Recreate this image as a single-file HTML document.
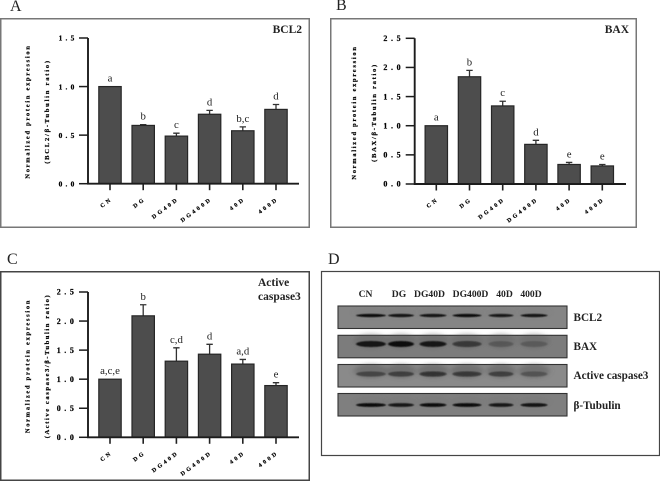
<!DOCTYPE html>
<html><head><meta charset="utf-8"><style>
html,body{margin:0;padding:0;background:#fff}
svg{display:block}
text{font-family:"Liberation Serif","DejaVu Serif",serif;fill:#222}
.tiny{fill:#000;stroke:#000;stroke-width:0.22px}
</style></head><body>
<svg id="fig" width="660" height="482" viewBox="0 0 660 482" xmlns="http://www.w3.org/2000/svg">
<defs>
<filter id="b1" x="-30%" y="-200%" width="160%" height="500%"><feGaussianBlur stdDeviation="0.9 0.55"/></filter>
<filter id="b2" x="-30%" y="-200%" width="160%" height="500%"><feGaussianBlur stdDeviation="3 1.8"/></filter>
<filter id="soft" x="-2%" y="-2%" width="104%" height="104%"><feGaussianBlur stdDeviation="0.33"/></filter>
</defs>
<g id="root" filter="url(#soft)"></g>
</svg>
<script>
const categories = ['CN','DG','DG40D','DG400D','40D','400D'];
const bcl2Values = [1.0,0.6,0.49,0.715,0.545,0.765];
const bcl2Errors = [0,0.008,0.03,0.04,0.04,0.05];
const bcl2Letters = ['a','b','c','d','b,c','d'];
const bcl2Ticks = ['0.0','0.5','1.0','1.5'];
const baxValues = [1.0,1.84,1.34,0.68,0.335,0.31];
const baxErrors = [0,0.11,0.08,0.07,0.035,0.025];
const baxLetters = ['a','b','c','d','e','e'];
const baxTicks = ['0.0','0.5','1.0','1.5','2.0','2.5'];
const caspValues = [1.0,2.09,1.31,1.43,1.26,0.89];
const caspErrors = [0,0.19,0.23,0.17,0.08,0.05];
const caspLetters = ['a,c,e','b','c,d','d','a,d','e'];
const caspTicks = ['0.0','0.5','1.0','1.5','2.0','2.5'];
const blotLaneLabels = ['CN','DG','DG40D','DG400D','40D','400D'];
const blotProteins = ['BCL2','BAX','Active caspase3','β-Tubulin'];
const bcl2Bands = [1,0.95,0.95,1,0.9,0.95];
const baxBands = [0.95,1,0.9,0.6,0.22,0.2];
const caspBands = [0.4,0.45,0.65,0.6,0.45,0.28];
const tubulinBands = [1,0.9,1,1,0.9,0.95];

const NS='http://www.w3.org/2000/svg';
const root=document.getElementById('root');
function mk(tag,attrs,parent,txt){
  const e=document.createElementNS(NS,tag);
  for(const k in attrs)e.setAttribute(k,attrs[k]);
  if(txt!==undefined)e.textContent=txt;
  (parent||root).appendChild(e);
  return e;
}

function panel(cfg){
  const g=mk('g',{});
  
  
  const frame=mk('rect',{x:cfg.fx+0.75,y:cfg.fy+0.75,width:cfg.fw-1.5,height:cfg.fh-1.5,fill:'#fff',stroke:cfg.frameColor,'stroke-width':1.5},g);
  
  
  const letter=mk('text',{x:cfg.lx,y:cfg.ly,'font-size':16},g,cfg.letter);
  
  
  const yOf=v=>cfg.y0-(v/cfg.ymax)*(cfg.y0-cfg.yTop);
  const xOf=i=>cfg.x0+i*cfg.step;
  cfg.values.forEach((v,i)=>{
    const x=xOf(i),y=yOf(v),e=cfg.errors[i];
    if(e>0){
      const err=mk('path',{d:`M${x} ${y}V${yOf(v+e)}M${x-3.2} ${yOf(v+e)}H${x+3.2}`,stroke:'#333','stroke-width':1.3,fill:'none'},g);
      
      
    }
    const bar=mk('rect',{x:x-11.2,y:y,width:22.4,height:cfg.y0-y,fill:'#4d4d4d',stroke:'#262626','stroke-width':1.2},g);
    
    
    const sig=mk('text',{x:x,y:yOf(v+e)-5,'font-size':10.8,'text-anchor':'middle'},g,cfg.letters[i]);
    
    
    const tick=mk('line',{x1:x,x2:x,y1:cfg.y0,y2:cfg.y0+6.5,stroke:'#222','stroke-width':1.6},g);
    
    
    const tx=x+3,ty=cfg.y0+16;
    const lab=mk('text',{x:tx,y:ty,'font-size':5.8,'font-weight':'bold','letter-spacing':2.7,'text-anchor':'end',class:'tiny',transform:`rotate(-37 ${tx} ${ty})`},g,categories[i]);
    
    
  });
  const ax=mk('path',{d:`M${cfg.axX} ${cfg.yTop}V${cfg.y0}H${cfg.axEnd}`,stroke:'#1c1c1c','stroke-width':1.9,fill:'none'},g);
  
  
  cfg.ticks.forEach(t=>{
    const v=parseFloat(t),y=yOf(v);
    const tk=mk('line',{x1:cfg.axX-9,x2:cfg.axX,y1:y,y2:y,stroke:'#1c1c1c','stroke-width':1.5},g);
    
    
    const lb=mk('text',{x:cfg.axX-10.5,y:y+2.7,'font-size':cfg.tickSize,'font-weight':'bold','letter-spacing':cfg.tickSpacing,'text-anchor':'end',class:'tiny'},g,t);
    
    
  });
  const ym=cfg.titleY;
  const t1=mk('text',{x:cfg.t1x,y:ym,'font-size':6.4,'font-weight':'bold','letter-spacing':1.75,'text-anchor':'middle',class:'tiny',transform:`rotate(-90 ${cfg.t1x} ${ym})`},g,'Normalized protein expression');
  
  
  const t2=mk('text',{x:cfg.t2x,y:ym,'font-size':6.6,'letter-spacing':cfg.sub2Spacing,'font-weight':'bold','text-anchor':'middle',class:'tiny',transform:`rotate(-90 ${cfg.t2x} ${ym})`},g,cfg.sub);
  
  
  cfg.title.forEach((s,i)=>{
    const t=mk('text',{x:cfg.titleX,y:cfg.titleTop+i*14,'font-size':11.5,'font-weight':'bold','text-anchor':cfg.titleAnchor||'end',fill:'#222'},g,s);
    
    
  });
}

panel({name:'bcl2',letter:'A',lx:10,ly:11,fx:0,fy:18,fw:310,fh:210,frameColor:'#777',
  x0:110,step:33.2,y0:183.7,yTop:38,ymax:1.5,axX:88,axEnd:299,
  values:bcl2Values,errors:bcl2Errors,letters:bcl2Letters,ticks:bcl2Ticks,
  tickSize:7.4,tickSpacing:3.2,t1x:29.5,t2x:49,titleY:111.5,sub:'(BCL2/β-Tubulin ratio)',sub2Spacing:1.75,
  title:['BCL2'],titleX:302,titleTop:33});
panel({name:'bax',letter:'B',lx:336,ly:10,fx:330,fy:18,fw:307,fh:210,frameColor:'#777',
  x0:436.3,step:33.2,y0:184,yTop:38.3,ymax:2.5,axX:414.7,axEnd:626,
  values:baxValues,errors:baxErrors,letters:baxLetters,ticks:baxTicks,
  tickSize:8,tickSpacing:3.6,t1x:356,t2x:376,titleY:112.5,sub:'(BAX/β-Tubulin ratio)',sub2Spacing:1.7,
  title:['BAX'],titleX:629,titleTop:33});
panel({name:'caspase',letter:'C',lx:7,ly:264,fx:0,fy:271,fw:310,fh:210,frameColor:'#444',
  x0:110,step:33.2,y0:437.3,yTop:292,ymax:2.5,axX:88,axEnd:299,
  values:caspValues,errors:caspErrors,letters:caspLetters,ticks:caspTicks,
  tickSize:8,tickSpacing:3.6,t1x:29.5,t2x:49,titleY:366,sub:'(Active caspase3/β-Tubulin ratio)',sub2Spacing:1.55,
  title:['Active','caspase3'],titleX:258,titleAnchor:'start',titleTop:286});

(function(){
  const g=mk('g',{});
  
  
  const fr=mk('rect',{x:321.5,y:271.5,width:338,height:184,fill:'#fff',stroke:'#444','stroke-width':1.2},g);
  
  
  const l=mk('text',{x:328,y:264,'font-size':16},g,'D');
  
  
  const laneX=[365.5,399,429.5,470.5,504.5,531];
  blotLaneLabels.forEach((s,i)=>{
    const t=mk('text',{x:laneX[i],y:297,'font-size':9.6,'font-weight':'bold','text-anchor':'middle',fill:'#222'},g,s);
    
    
  });
  const rows=[
    {bands:bcl2Bands,bg:'#858585',y:306,by:315.5,bh:1.6,hazy:0.1},
    {bands:baxBands,bg:'#7c7c7c',y:335.3,by:344,bh:3,hazy:0.3},
    {bands:caspBands,bg:'#8a8a8a',y:364.5,by:374,bh:2.6,hazy:0.45},
    {bands:tubulinBands,bg:'#7f7f7f',y:393.5,by:405,bh:1.9,hazy:0.12}
  ];
  const bandX=[371,401,433,467,501,534];
  const bandW=[15,13,13.5,14.5,12.5,13.5];
  rows.forEach((r,ri)=>{
    const rw=mk('g',{},g);
    
    
    mk('rect',{x:338,y:r.y,width:229,height:22.5,fill:r.bg,stroke:'#333','stroke-width':1.1},rw);
    r.bands.forEach((v,i)=>{
      mk('ellipse',{cx:bandX[i],cy:r.by-3,rx:bandW[i]+2,ry:r.bh*2+2,fill:'#555','fill-opacity':r.hazy,filter:'url(#b2)'},rw);
      const b=mk('ellipse',{cx:bandX[i],cy:r.by,rx:bandW[i],ry:r.bh,fill:'#0c0c0c','fill-opacity':v,filter:'url(#b1)'},rw);
      
      
    });
    const lbY=[321,350,379,409][ri];
    const t=mk('text',{x:573.5,y:lbY,'font-size':11.2,'font-weight':'bold',fill:'#222'},g,blotProteins[ri]);
    
    
  });
})();
</script>
</body></html>
